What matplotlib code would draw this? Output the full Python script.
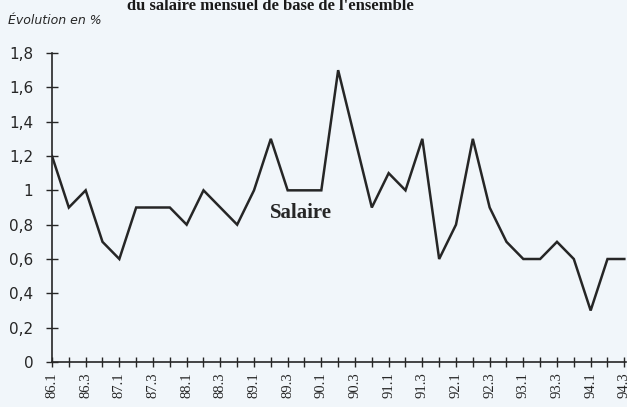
import matplotlib
matplotlib.use("Agg")
import matplotlib.pyplot as plt
import numpy as np

# quarterly change of the monthly base wage, in %
quarters = []
for yy in range(86, 95):
    for q in range(1, 5):
        quarters.append("%d.%d" % (yy, q))
quarters = quarters[:35]  # 86.1 .. 94.3

salaire = [1.2, 0.9, 1.0, 0.7, 0.6, 0.9, 0.9, 0.9, 0.8, 1.0,
           0.9, 0.8, 1.0, 1.3, 1.0, 1.0, 1.0, 1.7, 1.3, 0.9,
           1.1, 1.0, 1.3, 0.6, 0.8, 1.3, 0.9, 0.7, 0.6, 0.6,
           0.7, 0.6, 0.3, 0.6, 0.6]

y_ticks = [0, 0.2, 0.4, 0.6, 0.8, 1.0, 1.2, 1.4, 1.6, 1.8]
y_labels = ["0", "0,2", "0,4", "0,6", "0,8", "1", "1,2", "1,4", "1,6", "1,8"]

bg = "#f1f6fa"
ink = "#262626"

fig = plt.figure(figsize=(6.27, 4.07), dpi=100, facecolor=bg)
ax = fig.add_axes([52 / 627, 45 / 407, 574 / 627, 309 / 407], facecolor=bg)

x = np.arange(len(salaire))
ax.plot(x, salaire, color=ink, lw=1.8, solid_joinstyle="miter")

ax.set_xlim(0, 34.1)
ax.set_ylim(0, 1.8)
for s in ["top", "right"]:
    ax.spines[s].set_visible(False)
for s in ["left", "bottom"]:
    ax.spines[s].set_color(ink)
    ax.spines[s].set_linewidth(1.2)

ax.set_yticks(y_ticks)
ax.set_yticklabels(y_labels, family="DejaVu Sans", fontsize=11, color=ink)
ax.tick_params(axis="y", direction="inout", length=9, width=1, color=ink, pad=9)

ax.set_xticks(x)
ax.set_xticklabels([q if i % 2 == 0 else "" for i, q in enumerate(quarters)],
                   rotation=90, family="Liberation Serif", fontsize=10.5, color=ink)
ax.tick_params(axis="x", direction="inout", length=7, width=1, color=ink, pad=4)

ax.text(14.8, 0.87, "Salaire", family="Liberation Serif", fontweight="bold",
        fontsize=15, color=ink, ha="center", va="center")

fig.text(8 / 627, 1 - 20 / 407, "Évolution en %", family="DejaVu Sans",
         style="italic", fontsize=9, color=ink, ha="left", va="center")
# title, cut off by the scan at the top
fig.text(270 / 627, 1 - 10 / 407, "du salaire mensuel de base de l'ensemble",
         family="Liberation Serif", fontweight="bold", fontsize=12,
         color="#1a1a1a", ha="center", va="baseline")

fig.savefig("out.png", dpi=100, facecolor=bg)
